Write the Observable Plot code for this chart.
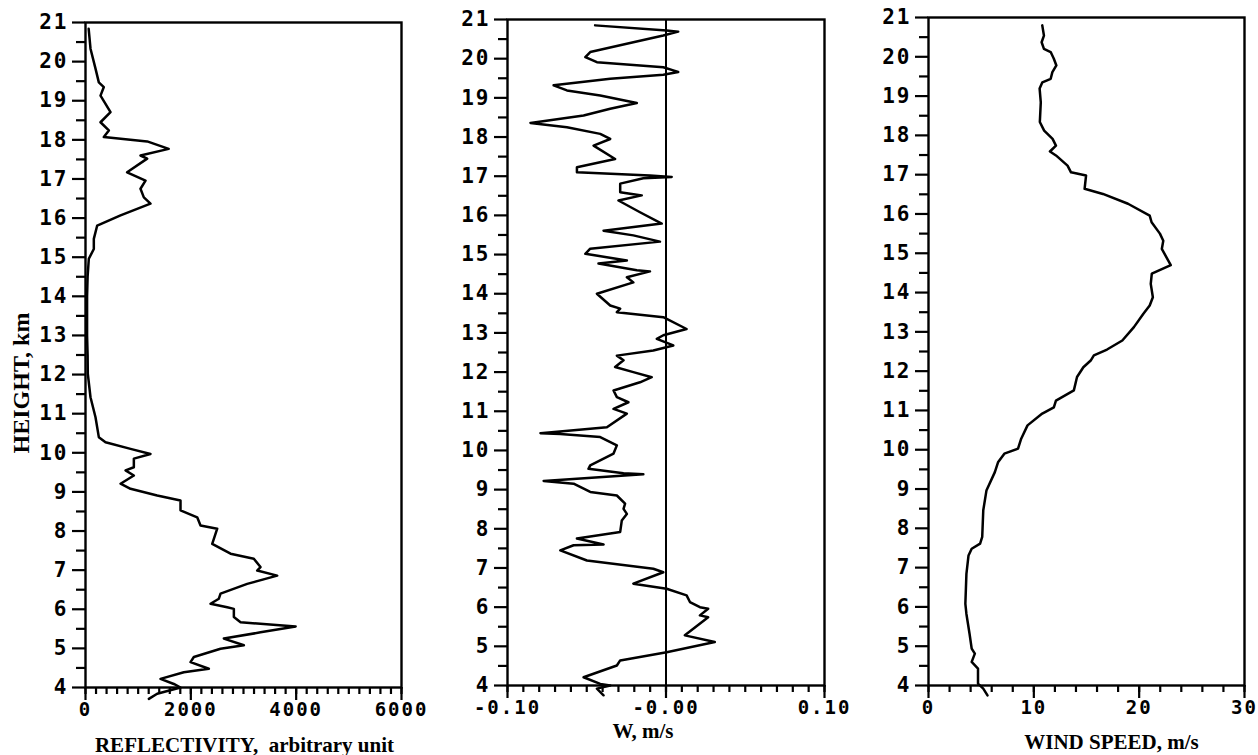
<!DOCTYPE html>
<html><head><meta charset="utf-8">
<script src="https://cdn.jsdelivr.net/npm/d3@7"></script>
<script src="https://cdn.jsdelivr.net/npm/@observablehq/plot@0.6"></script>
<style>
body{margin:0;background:#fff;}
#wrap{position:relative;width:1258px;height:755px;overflow:hidden;background:#fff;}
#wrap svg{position:absolute;top:0;}
#wrap g[aria-label$="tick label"] text{letter-spacing:2px;font-weight:bold;}
#wrap g[aria-label$="-axis tick"] path{stroke-width:2.2px;stroke:#000;}
</style></head><body><div id="wrap"></div>
<script>
// ---------- data ----------
const refHeight = [20.84,20.33,19.82,19.47,19.35,19.13,18.71,18.45,18.24,18.07,17.96,17.77,17.60,17.52,17.17,16.96,16.75,16.53,16.37,16.07,15.81,15.47,15.21,14.96,14.5,14.0,13.5,13.0,12.5,12.02,11.42,10.91,10.40,10.27,10.10,9.97,9.85,9.63,9.55,9.42,9.21,9.08,8.91,8.78,8.53,8.35,8.14,8.06,7.67,7.42,7.29,7.08,6.99,6.86,6.65,6.40,6.27,6.14,6.05,6.01,5.80,5.67,5.56,5.41,5.25,5.08,4.99,4.78,4.65,4.48,4.39,4.22,4.09,4.00,3.84,3.71];
const refValue  = [60,95,190,253,348,285,475,285,443,348,1171,1580,1044,1171,790,1140,1044,1108,1234,665,222,158,158,63,40,30,30,30,40,44,95,190,253,380,855,1234,918,918,760,918,665,855,1361,1804,1804,2121,2184,2501,2406,2754,3196,3323,3260,3640,3070,2564,2532,2374,2691,2817,2817,2944,3990,3323,2627,3007,2564,2057,1994,2342,1867,1424,1677,1804,1361,1203];

const wHeight = [20.85,20.72,20.69,20.59,20.42,20.17,20.04,19.91,19.78,19.70,19.66,19.59,19.49,19.32,19.19,19.06,18.87,18.72,18.55,18.36,18.25,18.08,17.95,17.78,17.44,17.23,17.10,17.02,16.98,16.95,16.81,16.59,16.51,16.38,16.08,15.79,15.61,15.49,15.33,15.15,15.02,14.85,14.77,14.60,14.57,14.42,14.29,14.00,13.70,13.62,13.53,13.40,13.10,12.94,12.85,12.68,12.55,12.42,12.30,12.13,12.00,11.87,11.74,11.53,11.36,11.23,11.06,10.94,10.59,10.44,10.42,10.34,10.13,9.92,9.62,9.53,9.42,9.39,9.22,9.15,8.94,8.85,8.64,8.51,8.38,8.21,7.92,7.75,7.60,7.58,7.45,7.19,6.98,6.89,6.60,6.47,6.30,6.13,6.00,5.96,5.79,5.74,5.28,5.11,4.85,4.64,4.51,4.21,4.04,4.00,3.92,3.75];
const wValue  = [-0.0447,0.0004,0.0077,-0.0017,-0.0206,-0.0478,-0.0509,-0.0436,-0.0017,0.0046,0.0077,-0.0017,-0.0352,-0.0709,-0.0625,-0.0415,-0.0184,-0.0352,-0.0520,-0.0855,-0.0625,-0.0415,-0.0352,-0.0457,-0.0321,-0.0562,-0.0562,-0.0101,0.0036,-0.0143,-0.0289,-0.0289,-0.0153,-0.0300,-0.0164,-0.0027,-0.0394,-0.0206,-0.0038,-0.0478,-0.0509,-0.0247,-0.0426,-0.0184,-0.0101,-0.0247,-0.0206,-0.0436,-0.0352,-0.0289,-0.0310,-0.0017,0.0130,-0.0017,-0.0058,0.0046,-0.0080,-0.0310,-0.0268,-0.0321,-0.0206,-0.0090,-0.0164,-0.0331,-0.0310,-0.0237,-0.0331,-0.0247,-0.0373,-0.0792,-0.0667,-0.0415,-0.0310,-0.0331,-0.0478,-0.0489,-0.0268,-0.0143,-0.0772,-0.0583,-0.0478,-0.0310,-0.0258,-0.0268,-0.0247,-0.0279,-0.0289,-0.0562,-0.0394,-0.0583,-0.0667,-0.0499,-0.0080,-0.0017,-0.0206,0.0004,0.0130,0.0151,0.0214,0.0266,0.0214,0.0266,0.0119,0.0308,0.0004,-0.0289,-0.0310,-0.0520,-0.0415,-0.0352,-0.0436,-0.0394];

const windHeight = [20.80,20.54,20.37,20.20,20.12,19.95,19.78,19.61,19.44,19.35,19.19,18.84,18.34,18.12,17.91,17.74,17.59,17.49,17.23,17.06,16.98,16.64,16.51,16.26,15.96,15.79,15.50,15.32,15.11,14.70,14.48,14.22,13.88,13.67,13.46,13.12,12.78,12.55,12.40,12.27,12.10,11.85,11.51,11.25,11.08,10.92,10.62,10.28,10.03,9.90,9.68,9.43,8.96,8.46,7.78,7.61,7.48,7.31,6.84,6.08,5.82,5.31,4.94,4.81,4.60,4.43,4.05,3.92,3.75];
const windValue  = [10.8,10.96,10.74,10.96,11.6,11.9,12.14,11.76,11.6,10.81,10.55,10.66,10.57,10.98,11.78,12.1,11.53,12.1,13.2,13.53,14.96,14.82,16.56,18.94,21.0,21.18,21.97,22.29,22.15,23.0,21.2,21.1,21.3,21.0,20.4,19.5,18.4,16.95,15.7,15.4,14.7,14.1,13.8,12.1,11.9,10.8,9.4,8.8,8.5,7.2,6.6,6.3,5.5,5.2,5.1,4.9,4.1,3.8,3.6,3.5,3.6,3.9,4.1,4.4,4.1,4.7,4.7,5.2,5.6];

const heightTicks = d3.range(4, 22);
const heightMinor = d3.range(4.5, 21, 1);
const refTicks = [0, 2000, 4000, 6000];
const refTickLabels = ["0", "2000", "4000", "6000"];
const wTicks = [-0.1, 0, 0.1];
const wTickLabels = ["-0.10", "-0.00", "0.10"];
const windTicks = [0, 10, 20, 30];
const windTickLabels = ["0", "10", "20", "30"];

const titles = ["REFLECTIVITY,  arbitrary unit", "W, m/s", "WIND SPEED, m/s"];
const yTitle = "HEIGHT, km";

// ---------- drawing ----------
const wrap = document.getElementById("wrap");
const serif = "'Liberation Serif', 'Times New Roman', serif";

function panel(o) {
  const data = o.heights.map((h, i) => ({h, v: o.values[i]}));
  const svg = Plot.plot({
    width: o.width, height: 755,
    marginLeft: o.mLeft, marginRight: o.mRight, marginTop: o.mTop, marginBottom: o.mBottom,
    x: {domain: o.xDomain, label: null},
    y: {domain: [4, 21], label: null},
    style: {fontFamily: "'DejaVu Sans Mono', monospace", color: "#000", background: "transparent", overflow: "visible"},
    marks: [
      Plot.axisY(heightMinor, {tickSize: 9, strokeWidth: 2, tickFormat: () => "", label: null}),
      Plot.axisY(heightTicks, {tickSize: 13, strokeWidth: 2, tickPadding: 4, fontSize: 21, tickFormat: d => String(d), label: null}),
      Plot.axisX(o.minorX, {tickSize: 7, strokeWidth: 2, tickFormat: () => "", label: null}),
      Plot.axisX(o.majorX, {tickSize: 13, strokeWidth: 2, tickPadding: 2, fontSize: 19,
        tickFormat: d => o.majorLabels[o.majorX.indexOf(d)], label: null}),
      ...(o.extra || []),
      Plot.frame({strokeWidth: 2.4, stroke: "#000"}),
      Plot.line(data, {x: "v", y: "h", stroke: "#000", strokeWidth: 2.5, strokeLinejoin: "round"}),
      Plot.text([o.title], {frameAnchor: "bottom", textAnchor: "middle", lineAnchor: "bottom", dx: o.titleDx, dy: o.titleDy,
        fontFamily: serif, fontWeight: "bold", fontSize: 21, fill: "#000"})
    ]
  });
  svg.style.left = o.left + "px";
  wrap.append(svg);
}

panel({
  left: 0, width: 420, mLeft: 85, mRight: 19, mTop: 22, mBottom: 68,
  xDomain: [0, 6000], majorX: refTicks, majorLabels: refTickLabels, minorX: d3.range(0, 6001, 200),
  heights: refHeight, values: refValue, title: titles[0], titleDx: 1, titleDy: 64,
  extra: [Plot.text([yTitle], {frameAnchor: "left", textAnchor: "middle", rotate: -90, lineAnchor: "bottom", dx: -57, dy: 28,
    fontFamily: serif, fontWeight: "bold", fontSize: 24, fill: "#000"})]
});
panel({
  left: 420, width: 420, mLeft: 87, mRight: 16, mTop: 19, mBottom: 70,
  xDomain: [-0.1, 0.1], majorX: wTicks, majorLabels: wTickLabels, minorX: d3.range(-10, 11).map(d => d / 100),
  heights: wHeight, values: wValue, title: titles[1], titleDx: -23, titleDy: 52,
  extra: [Plot.ruleX([0], {stroke: "#000", strokeWidth: 2})]
});
panel({
  left: 840, width: 418, mLeft: 88, mRight: 14, mTop: 17, mBottom: 70,
  xDomain: [0, 30], majorX: windTicks, majorLabels: windTickLabels, minorX: d3.range(0, 31, 2),
  heights: windHeight, values: windValue, title: titles[2], titleDx: 25, titleDy: 63
});
</script></body></html>
